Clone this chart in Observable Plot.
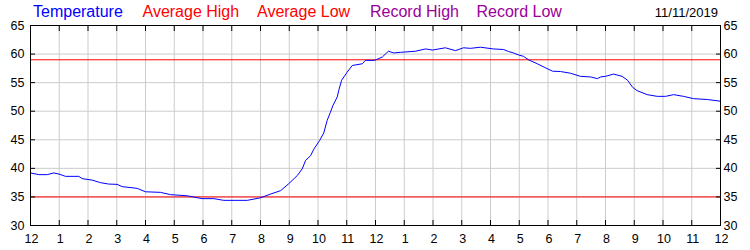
<!DOCTYPE html>
<html>
<head>
<meta charset="utf-8">
<script src="https://cdn.jsdelivr.net/npm/d3@7"></script>
<script src="https://cdn.jsdelivr.net/npm/@observablehq/plot@0.6"></script>
<style>
  html, body { margin: 0; padding: 0; background: #fff; }
  #wrap { position: relative; width: 750px; height: 250px; font-family: "Liberation Sans", Arial, sans-serif; }
  .leg { position: absolute; top: 3px; font-size: 16px; white-space: nowrap; line-height: normal; }
  .date { position: absolute; top: 5px; right: 32px; font-size: 13px; color: #000; line-height: normal; }
  svg { display: block; }
</style>
</head>
<body>
<div id="wrap"></div>
<script>
// ---- data ----
const hours = [0, 0.29, 0.58, 0.81, 0.99, 1.22, 1.68, 1.8, 2.14, 2.43, 2.72, 3.01, 3.19, 3.71, 4.0, 4.52, 4.87, 5.45, 5.97, 6.38, 6.72, 7.54, 8.0, 8.35, 8.7, 8.98, 9.28, 9.45, 9.57, 9.74, 9.86, 10.06, 10.2, 10.32, 10.43, 10.52, 10.67, 10.72, 10.82, 11.01, 11.19, 11.54, 11.65, 11.97, 12.24, 12.45, 12.63, 12.87, 13.39, 13.74, 13.98, 14.43, 14.78, 15.06, 15.3, 15.65, 16.1, 16.45, 16.63, 16.8, 16.97, 17.15, 17.32, 17.63, 17.91, 18.16, 18.43, 18.78, 19.13, 19.48, 19.72, 19.83, 20.0, 20.28, 20.58, 20.77, 20.94, 21.1, 21.45, 21.8, 22.09, 22.37, 22.71, 23.06, 23.54, 24];
const temperature = [39.2, 38.9, 38.9, 39.2, 39.0, 38.6, 38.6, 38.2, 37.95, 37.5, 37.25, 37.2, 36.8, 36.5, 35.9, 35.8, 35.4, 35.2, 34.7, 34.7, 34.4, 34.4, 34.85, 35.5, 36.1, 37.3, 38.75, 39.9, 41.4, 42.2, 43.4, 44.9, 46.2, 48.4, 49.8, 51.0, 52.5, 53.6, 55.4, 56.8, 58.0, 58.3, 58.9, 58.9, 59.5, 60.5, 60.2, 60.3, 60.5, 60.9, 60.7, 61.1, 60.6, 61.1, 61.0, 61.2, 60.9, 60.8, 60.45, 60.2, 59.85, 59.6, 59.0, 58.3, 57.6, 57.0, 56.95, 56.65, 56.1, 56.0, 55.7, 56.0, 56.1, 56.5, 56.1, 55.4, 54.2, 53.6, 52.9, 52.6, 52.6, 52.9, 52.6, 52.2, 52.05, 51.75];
const averageHigh = [59];
const averageLow = [35];
const xTicks = d3.range(0, 25);
const xTickLabels = ["12","1","2","3","4","5","6","7","8","9","10","11","12","1","2","3","4","5","6","7","8","9","10","11","12"];
const yTicks = [30, 35, 40, 45, 50, 55, 60, 65];
const legendItems = ["Temperature", "Average High", "Average Low", "Record High", "Record Low"];
const legendColors = ["#0000ff", "#ff0000", "#ff0000", "#990099", "#990099"];
const dateLabel = "11/11/2019";

const data = hours.map((h, i) => ({h, t: temperature[i]}));
const FONT = "Liberation Sans, Arial, sans-serif";

const chart = Plot.plot({
  width: 750,
  height: 250,
  marginLeft: 30,
  marginRight: 30,
  marginTop: 25,
  marginBottom: 25,
  style: {fontFamily: FONT, fontSize: "12.5px", color: "#000", background: "#fff"},
  x: {domain: [0, 24], label: null},
  y: {domain: [30, 65], label: null},
  marks: [
    Plot.gridX(xTicks, {stroke: "#cccccc", strokeOpacity: 1}),
    Plot.gridY(yTicks, {stroke: "#cccccc", strokeOpacity: 1}),
    Plot.ruleY(averageHigh, {stroke: "#ff0000", strokeWidth: 1}),
    Plot.ruleY(averageLow, {stroke: "#ff0000", strokeWidth: 1}),
    Plot.line(data, {x: "h", y: "t", stroke: "#0000ff", strokeWidth: 1}),
    Plot.frame({stroke: "#000"}),
    // inward tick marks
    Plot.axisX(xTicks, {anchor: "bottom", label: null, tickSize: 5, dy: -5, tickFormat: () => "", stroke: "#000"}),
    Plot.axisX(xTicks, {anchor: "top", label: null, tickSize: 5, dy: 5, tickFormat: () => "", stroke: "#000"}),
    Plot.axisY(yTicks, {anchor: "left", label: null, tickSize: 5, dx: 5, tickFormat: () => "", stroke: "#000"}),
    Plot.axisY(yTicks, {anchor: "right", label: null, tickSize: 5, dx: -5, tickFormat: () => "", stroke: "#000"}),
    // labels
    Plot.axisX(xTicks, {anchor: "bottom", label: null, tickSize: 0, tickPadding: 9, dx: 1, tickFormat: (d) => xTickLabels[d], fill: "#000", fontSize: 12.5}),
    Plot.axisY(yTicks, {anchor: "left", label: null, tickSize: 0, tickPadding: 6, fill: "#000", fontSize: 12.5}),
    Plot.axisY(yTicks, {anchor: "right", label: null, tickSize: 0, tickPadding: 3, fill: "#000", fontSize: 12.5})
  ]
});

const wrap = document.getElementById("wrap");
wrap.appendChild(chart);
const legendLeft = [33, 142.5, 257, 370, 476.5];
legendItems.forEach((name, i) => {
  const s = document.createElement("span");
  s.className = "leg";
  s.textContent = name;
  s.style.color = legendColors[i];
  s.style.left = legendLeft[i] + "px";
  wrap.appendChild(s);
});
const dt = document.createElement("span");
dt.className = "date";
dt.textContent = dateLabel;
wrap.appendChild(dt);
</script>
</body>
</html>
